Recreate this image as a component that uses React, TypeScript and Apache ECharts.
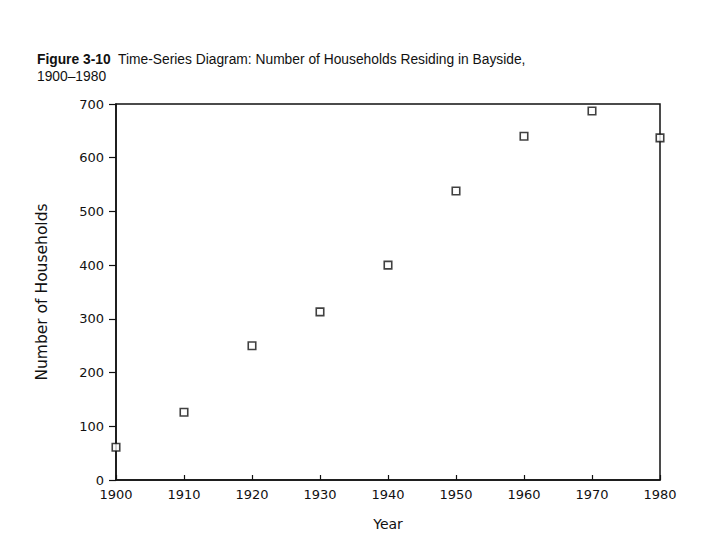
import React, { useEffect, useRef } from "react";
import * as echarts from "echarts";

const years = [1900, 1910, 1920, 1930, 1940, 1950, 1960, 1970, 1980];
const households = [61, 126, 250, 313, 400, 538, 640, 687, 637];
const xTicks = { min: 1900, max: 1980, interval: 10 };
const yTicks = { min: 0, max: 700, interval: 100 };

export default function App() {
  const ref = useRef<HTMLDivElement>(null);
  useEffect(() => {
    if (!ref.current) return;
    const chart = echarts.init(ref.current, null, { renderer: "svg" });
    const axisFont = { fontFamily: "DejaVu Sans", fontSize: 13, color: "#111" };
    chart.setOption({
      animation: false,
      backgroundColor: "#fff",
      title: {
        left: 32,
        top: 46,
        text: "{b|Figure 3-10}  Time-Series Diagram: Number of Households Residing in Bayside,\n1900–1980",
        textStyle: {
          fontFamily: "Liberation Sans",
          fontSize: 13.8,
          fontWeight: "normal",
          color: "#111",
          lineHeight: 17,
          rich: {
            b: { fontFamily: "Liberation Sans", fontSize: 13.8, fontWeight: "bold", color: "#111" },
          },
        },
      },
      grid: {
        left: 116,
        right: 60,
        top: 104,
        bottom: 60,
        show: true,
        borderColor: "#111",
        borderWidth: 1.5,
        backgroundColor: "transparent",
      },
      xAxis: {
        type: "value",
        min: xTicks.min,
        max: xTicks.max,
        interval: xTicks.interval,
        name: "Year",
        nameLocation: "middle",
        nameGap: 37,
        nameTextStyle: { ...axisFont, fontSize: 14 },
        axisLine: { show: true, lineStyle: { color: "#111", width: 1.5 } },
        axisTick: { show: true, inside: true, length: 5, lineStyle: { color: "#111", width: 1.2 } },
        axisLabel: { ...axisFont, margin: 8, formatter: (v: number) => String(v) },
        splitLine: { show: false },
      },
      yAxis: {
        type: "value",
        min: yTicks.min,
        max: yTicks.max,
        interval: yTicks.interval,
        name: "Number of Households",
        nameLocation: "middle",
        nameGap: 66,
        nameTextStyle: { ...axisFont, fontSize: 15.5 },
        axisLine: { show: true, lineStyle: { color: "#111", width: 1.5 } },
        axisTick: { show: true, inside: false, length: 7, lineStyle: { color: "#111", width: 1.2 } },
        axisLabel: { ...axisFont, margin: 12 },
        splitLine: { show: false },
      },
      series: [
        {
          type: "scatter",
          data: years.map((y, i) => [y, households[i]]),
          symbol: "rect",
          symbolSize: 7.5,
          itemStyle: { color: "#fff", borderColor: "#111", borderWidth: 1.6 },
          clip: false,
        },
      ],
    });
    return () => chart.dispose();
  }, []);
  return <div ref={ref} style={{ width: 720, height: 540, position: "absolute", left: 0, top: 0 }} />;
}
